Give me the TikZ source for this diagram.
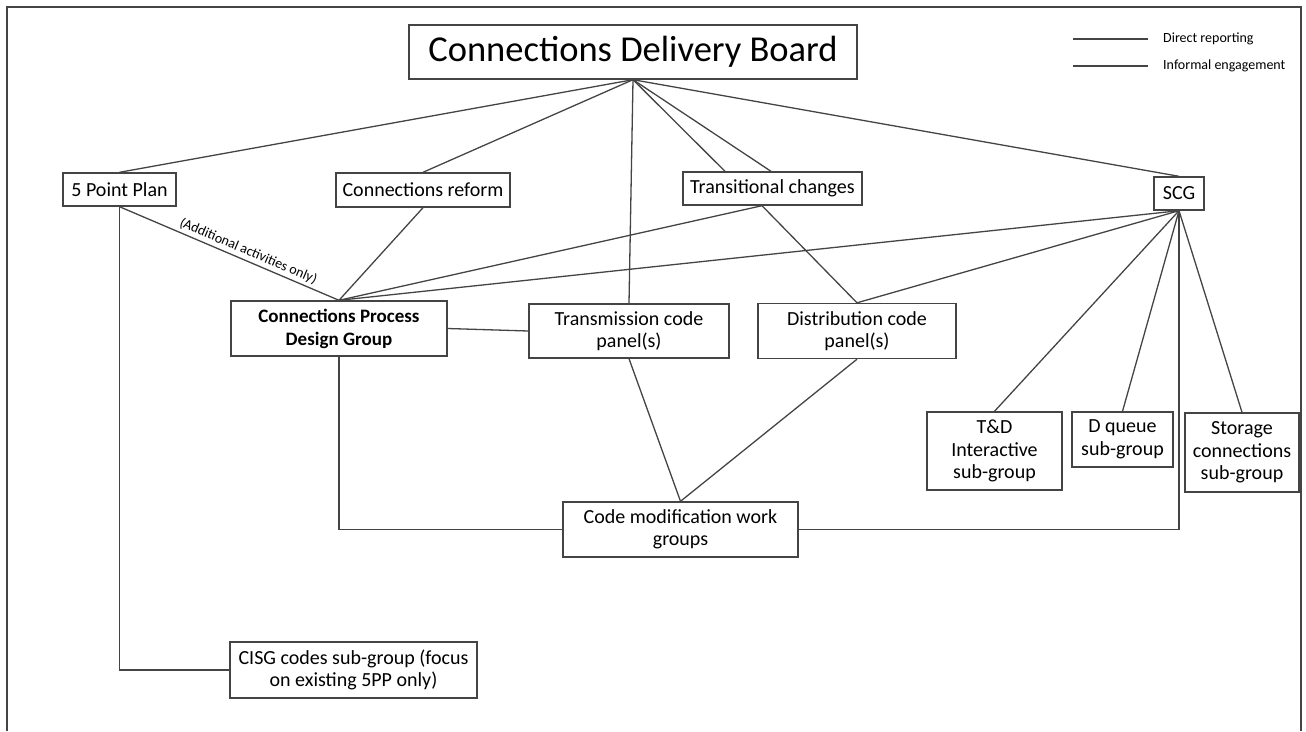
\documentclass[tikz,border=0pt]{standalone}
\usepackage{fontspec}
\setmainfont{Carlito}
\definecolor{linegray}{HTML}{444444}
\begin{document}
\begin{tikzpicture}[x=1pt,y=-1pt,
  box/.style={draw=linegray,shape=rectangle,line width=1.4pt,inner sep=0pt,align=center,font=\fontsize{20}{22.5}\selectfont},
  link/.style={draw=linegray,line width=1.3pt},
  legendtext/.style={anchor=west,inner sep=0pt,font=\fontsize{14}{16}\selectfont}]
\useasboundingbox (0,0) rectangle (1306,731);
\draw[link] (7,731) -- (7,7) -- (1301,7) -- (1301,731);
\node[box,minimum width=448pt,minimum height=54pt,font=\fontsize{36.5}{40}\selectfont](CDB) at (633,52){Connections Delivery Board};
\node[box,minimum width=113pt,minimum height=33pt](FPP) at (119.5,189.5){5 Point Plan};
\node[box,minimum width=174pt,minimum height=34pt](CR) at (423,190){Connections reform};
\node[box,minimum width=179pt,minimum height=33pt](TC) at (772.5,188.5){Transitional changes};
\node[box,minimum width=50pt,minimum height=33pt](SCG) at (1179,193.5){SCG};
\node[box,minimum width=216pt,minimum height=55pt,font=\fontsize{19}{23}\selectfont\bfseries](CPDG) at (339,328.5){Connections Process\\Design Group};
\node[box,minimum width=200pt,minimum height=54pt](TCP) at (629,331){Transmission code\\panel(s)};
\node[box,minimum width=198pt,minimum height=55pt](DCP) at (857,331){Distribution code\\panel(s)};
\node[box,minimum width=135pt,minimum height=78pt](TD) at (994.5,451){T\&D\\Interactive\\sub-group};
\node[box,minimum width=101pt,minimum height=55pt](DQ) at (1122.5,439.5){D queue\\sub-group};
\node[box,minimum width=114pt,minimum height=79pt](SC) at (1242,452.5){Storage\\connections\\sub-group};
\node[box,minimum width=235pt,minimum height=55pt](CMW) at (680.5,529.5){Code modification work\\groups};
\node[box,minimum width=247pt,minimum height=56pt](CISG) at (353.5,670){CISG codes sub-group (focus\\on existing 5PP only)};
\node[legendtext](DR) at (1163,39){Direct reporting};
\node[legendtext](IE) at (1163,66){Informal engagement};
\coordinate (DRs) at (1073,39);
\coordinate (IEs) at (1073,66);
\draw[link] (DRs) -- ([xshift=-15pt]DR.west);
\draw[link] (IEs) -- ([xshift=-15pt]IE.west);
\draw[link] (CDB.south) -- (FPP.north);
\draw[link] (CDB.south) -- (CR.north);
\draw[link] (CDB.south) -- (TCP.north);
\draw[link] (CDB.south) -- ([xshift=-47.5pt]TC.north);
\draw[link] (CDB.south) -- ([xshift=-1.5pt]TC.north);
\draw[link] (CDB.south) -- (SCG.north);
\draw[link] (FPP.south) -- node[sloped,above,pos=0.57,inner sep=2.5pt,font=\fontsize{14}{16}\selectfont]{(Additional activities only)} (CPDG.north);
\draw[link] (FPP.south) |- (CISG.west);
\draw[link] (CR.south) -- (CPDG.north);
\draw[link] ([xshift=-10.5pt]TC.south) -- (CPDG.north);
\draw[link] ([xshift=-10.5pt]TC.south) -- (DCP.north);
\draw[link] (SCG.south) -- (CPDG.north);
\draw[link] (SCG.south) -- (DCP.north);
\draw[link] (SCG.south) -- (TD.north);
\draw[link] (SCG.south) -- (DQ.north);
\draw[link] (SCG.south) -- (SC.north);
\draw[link] (SCG.south) |- (CMW.east);
\draw[link] (CPDG.east) -- (TCP.west);
\draw[link] (CPDG.south) |- (CMW.west);
\draw[link] (TCP.south) -- (CMW.north);
\draw[link] (DCP.south) -- (CMW.north);
\end{tikzpicture}
\end{document}
